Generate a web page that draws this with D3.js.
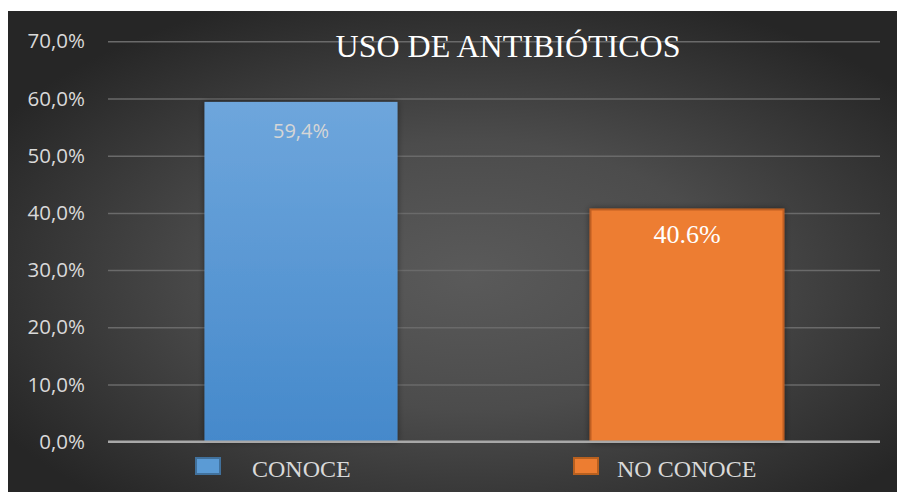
<!DOCTYPE html>
<html>
<head>
<meta charset="utf-8">
<script src="https://cdn.jsdelivr.net/npm/d3@7"></script>
<style>
  html, body { margin: 0; padding: 0; background: #ffffff; }
  svg { display: block; }
</style>
</head>
<body>
<svg id="chart" width="897" height="492"></svg>
<script>
const categories = ["CONOCE", "NO CONOCE"];
const values = [59.4, 40.6];
const valueLabels = ["59,4%", "40.6%"];
const yTicks = [0, 10, 20, 30, 40, 50, 60, 70];
const yTickLabels = ["0,0%", "10,0%", "20,0%", "30,0%", "40,0%", "50,0%", "60,0%", "70,0%"];
const title = "USO DE ANTIBIÓTICOS";

const svg = d3.select("#chart");
const W = 897, H = 492;

const defs = svg.append("defs");
const bg = defs.append("radialGradient").attr("id", "bgGrad")
  .attr("cx", "52%").attr("cy", "55%").attr("r", "62%");
bg.append("stop").attr("offset", "0%").attr("stop-color", "#5a5a5a");
bg.append("stop").attr("offset", "45%").attr("stop-color", "#4c4c4c");
bg.append("stop").attr("offset", "100%").attr("stop-color", "#262626");

const blueGrad = defs.append("linearGradient").attr("id", "blueGrad")
  .attr("x1", 0).attr("y1", 0).attr("x2", 0).attr("y2", 1);
blueGrad.append("stop").attr("offset", "0%").attr("stop-color", "#6ea6dc");
blueGrad.append("stop").attr("offset", "100%").attr("stop-color", "#4589cb");

const shadow = defs.append("filter").attr("id", "shadow")
  .attr("x", "-10%").attr("y", "-10%").attr("width", "120%").attr("height", "120%");
shadow.append("feDropShadow").attr("dx", 0).attr("dy", 0)
  .attr("stdDeviation", 3).attr("flood-color", "#000").attr("flood-opacity", 0.45);

// background
svg.append("rect").attr("x", 8).attr("y", 11).attr("width", W - 8).attr("height", H - 11)
  .attr("fill", "url(#bgGrad)");

const x = d3.scaleBand().domain(categories)
  .range([108, 880]).paddingInner(0.5).paddingOuter(0.25);
const y = d3.scaleLinear().domain([0, 70]).range([441.7, 41.3]);

// gridlines
const yAxis = d3.axisLeft(y).tickValues(yTicks)
  .tickSize(-(880 - 108)).tickFormat((d, i) => yTickLabels[i]).tickPadding(23);
const gy = svg.append("g").attr("transform", "translate(108,0)").call(yAxis);
gy.select(".domain").remove();
gy.selectAll(".tick line").attr("stroke", "#6a6a6a").attr("stroke-width", 1.5);
gy.selectAll(".tick text")
  .attr("fill", "#d9d9d9")
  .attr("font-family", "'Open Sans', 'Noto Sans', sans-serif")
  .attr("font-size", "20.5px");

// title
svg.append("text").attr("x", 508).attr("y", 57).attr("text-anchor", "middle")
  .attr("fill", "#ffffff").attr("font-family", "'Liberation Serif', 'Times New Roman', serif")
  .attr("font-size", "32px").text(title);

// bars
const fills = ["url(#blueGrad)", "#ed7d31"];
const strokes = ["none", "#bf5f22"];
svg.append("g").selectAll("rect").data(categories).join("rect")
  .attr("x", d => x(d))
  .attr("y", (d, i) => y(values[i]))
  .attr("width", x.bandwidth())
  .attr("height", (d, i) => y(0) - y(values[i]))
  .attr("fill", (d, i) => fills[i])
  .attr("stroke", (d, i) => strokes[i])
  .attr("stroke-width", 2)
  .attr("filter", "url(#shadow)");

// baseline
svg.append("line").attr("x1", 108).attr("x2", 880).attr("y1", y(0)).attr("y2", y(0))
  .attr("stroke", "#a8a8a8").attr("stroke-width", 2.5);

// value labels
const labelFonts = ["'Open Sans', 'Noto Sans', sans-serif", "'Liberation Serif', 'Times New Roman', serif"];
const labelSizes = ["20px", "26px"];
const labelColors = ["#d6d6d6", "#ffffff"];
svg.append("g").selectAll("text").data(categories).join("text")
  .attr("x", d => x(d) + x.bandwidth() / 2)
  .attr("y", (d, i) => y(values[i]) + (i === 0 ? 36 : 34))
  .attr("text-anchor", "middle")
  .attr("font-family", (d, i) => labelFonts[i])
  .attr("font-size", (d, i) => labelSizes[i])
  .attr("fill", (d, i) => labelColors[i])
  .text((d, i) => valueLabels[i]);

// legend
const legendFills = ["#5b9bd5", "#ed7d31"];
const legendStrokes = ["#41719c", "#b8601f"];
const legendX = [196, 574];
const lg = svg.append("g").selectAll("g").data(categories).join("g")
  .attr("transform", (d, i) => `translate(${legendX[i]},458)`);
lg.append("rect").attr("x", 0).attr("y", 0).attr("width", 24).attr("height", 16)
  .attr("fill", (d, i) => legendFills[i]).attr("stroke", (d, i) => legendStrokes[i]).attr("stroke-width", 2);
lg.append("text").attr("x", (d, i) => i === 0 ? 56 : 43).attr("y", 19)
  .attr("fill", "#d9d9d9").attr("font-family", "'Liberation Serif', 'Times New Roman', serif")
  .attr("font-size", "24px").text(d => d);
</script>
</body>
</html>
